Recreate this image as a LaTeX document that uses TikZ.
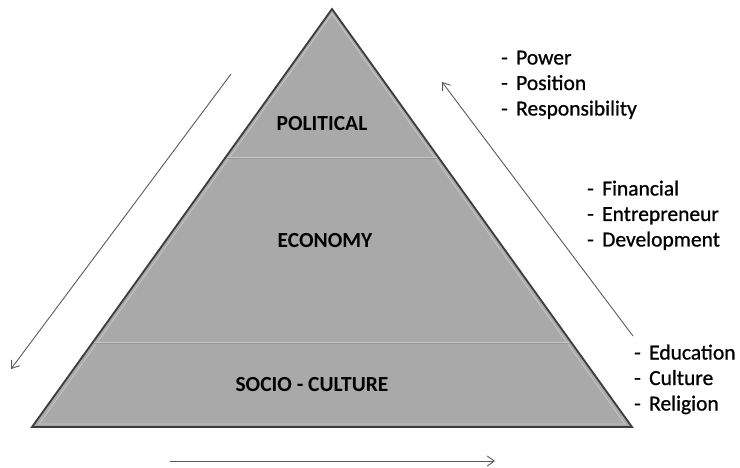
\documentclass[tikz,border=0pt]{standalone}
\usepackage{fontspec}
\setmainfont{Carlito}
\newfontfamily\listfont[FakeBold=0.8]{Carlito}
\usetikzlibrary{arrows.meta}
\definecolor{pyrfill}{HTML}{A9A9A9}
\definecolor{pyredge}{HTML}{3C3C3C}
\definecolor{pyrlight}{HTML}{C6C6C6}
\definecolor{arrowgray}{HTML}{5A5A5A}
\newcommand{\itemdash}{\makebox[15pt][l]{-}}
\tikzset{
  layerlabel/.style={font=\fontsize{21.5}{25}\selectfont\bfseries, text=black, inner sep=0pt},
  listitem/.style={font=\listfont\fontsize{21.5}{25}\selectfont, text=black, inner sep=0pt, anchor=base west},
  flowarrow/.style={draw=arrowgray, line width=0.9pt, -{Straight Barb[length=7pt,width=10pt]}}
}
\begin{document}
\begin{tikzpicture}[x=1pt,y=-1pt]
\useasboundingbox (0,0) rectangle (740,468);
% pyramid corners
\coordinate (apex) at (332,9);
\coordinate (bl) at (32,427);
\coordinate (br) at (632,427);
\fill[pyrfill] (apex) -- (bl) -- (br) -- cycle;
% inner light bevel
\draw[pyrlight, line width=0.8pt] (332,14) -- (39,424) -- (625,424) -- cycle;
% dividers
\coordinate (d1l) at (227,158);
\coordinate (d1r) at (437,158);
\coordinate (d2l) at (94,343);
\coordinate (d2r) at (569,343);
\draw[pyrlight, line width=2.4pt] (d1l) -- (d1r);
\draw[pyrfill!90!black, line width=0.6pt] (d1l) -- (d1r);
\draw[pyrlight, line width=2.4pt] (d2l) -- (d2r);
\draw[pyrfill!90!black, line width=0.6pt] (d2l) -- (d2r);
% outline
\draw[pyredge, line width=1.8pt, line join=miter] (apex) -- (bl) -- (br) -- cycle;
% layer labels
\node[layerlabel] (political) at (322,124) {POLITICAL};
\node[layerlabel] (economy) at (325,241) {ECONOMY};
\node[layerlabel] (socio) at (312,385) {SOCIO - CULTURE};
% arrows
\coordinate (la1) at (231,74);
\coordinate (la2) at (11,369);
\coordinate (ra1) at (633,336);
\coordinate (ra2) at (442,82);
\coordinate (ba1) at (170,461);
\coordinate (ba2) at (495,461);
\draw[flowarrow] (la1) -- (la2);
\draw[flowarrow] (ra1) -- (ra2);
\draw[flowarrow] (ba1) -- (ba2);
% lists
\node[listitem] (power) at (501,64.5) {\itemdash Power};
\node[listitem] (position) at (501,90) {\itemdash Position};
\node[listitem] (resp) at (501,115.5) {\itemdash Responsibility};
\node[listitem] (fin) at (587,195.5) {\itemdash Financial};
\node[listitem] (entre) at (587,221) {\itemdash Entrepreneur};
\node[listitem] (devel) at (587,246.5) {\itemdash Development};
\node[listitem] (edu) at (634,359.5) {\itemdash Education};
\node[listitem] (cult) at (634,385) {\itemdash Culture};
\node[listitem] (rel) at (634,410.5) {\itemdash Religion};
\end{tikzpicture}
\end{document}
